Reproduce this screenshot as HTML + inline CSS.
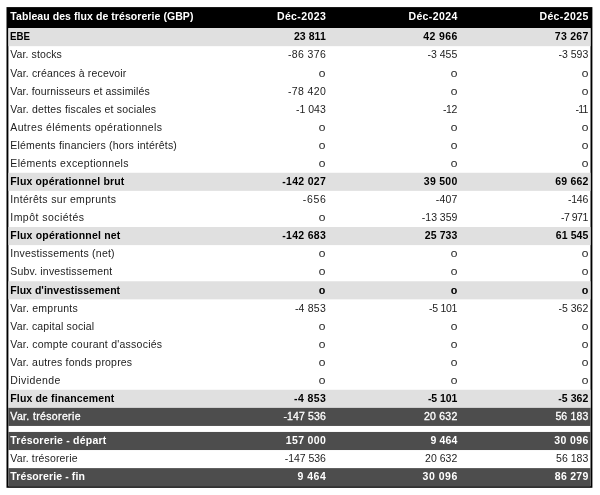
<!DOCTYPE html>
<html lang="fr"><head><meta charset="utf-8"><title>Tableau des flux de trésorerie</title>
<style>
html,body{margin:0;padding:0;background:#fff;}
body{width:600px;height:495px;position:relative;overflow:hidden;font-family:"Liberation Sans",Arial,sans-serif;font-size:10.5px;color:#1c1c1c;}
svg.bg{position:absolute;left:0;top:0}
.r{position:absolute;left:8.3px;width:582px;height:18.084px;line-height:18.084px;white-space:nowrap;}
.r.hd{color:#fff;font-weight:bold;}
.sub{font-weight:bold;color:#000}
.dark{color:#fff}
.b{font-weight:bold}
.sb{-webkit-text-stroke:0.3px #fff}
.l{position:absolute;left:2px;top:-0.75px;letter-spacing:0.125px}
.hd .l{letter-spacing:0.07px}
.c{position:absolute;top:-0.75px;text-align:right;letter-spacing:0.36px;margin-right:-0.36px}
.sub .c,.b .c{letter-spacing:0.06px;margin-right:0}
.r.hd .c{letter-spacing:0.39px;margin-right:-0.39px}
.z{font-style:normal;display:inline-block;font-size:9.8px;transform:scaleX(1.22);transform-origin:100% 50%}
.e{display:inline-block;transform:scaleX(0.925);transform-origin:0 50%}
.c1{right:264.5px}.c2{right:133px}.c3{right:2px}
</style></head><body>
<svg class="bg" width="600" height="495" viewBox="0 0 600 495">
<rect x="6.5" y="7.1" width="585.90" height="480.70" fill="#000"/>
<rect x="8.4" y="28.1" width="582.10" height="458.10" fill="#fff"/>
<rect x="8.4" y="28.10" width="582.10" height="18.084" fill="#e0e0e0"/>
<rect x="8.4" y="172.77" width="582.10" height="18.084" fill="#e0e0e0"/>
<rect x="8.4" y="227.02" width="582.10" height="18.084" fill="#e0e0e0"/>
<rect x="8.4" y="281.28" width="582.10" height="18.084" fill="#e0e0e0"/>
<rect x="8.4" y="389.78" width="582.10" height="18.084" fill="#e0e0e0"/>
<rect x="8.4" y="407.86" width="582.10" height="18.084" fill="#4d4d4d"/>
<rect x="8.4" y="431.95" width="582.10" height="18.084" fill="#4d4d4d"/>
<rect x="8.4" y="468.12" width="582.10" height="18.084" fill="#4d4d4d"/>
</svg>
<div class="r hd" style="top:7.1px;height:21.00px;line-height:21.00px"><span class="l">Tableau des flux de trésorerie (GBP)</span><span class="c c1">Déc-2023</span><span class="c c2">Déc-2024</span><span class="c c3">Déc-2025</span></div>
<div class="r sub" style="top:28.10px"><span class="l" style="letter-spacing:0px"><b class="e">EBE</b></span><span class="c c1" style="letter-spacing:0.06px;margin-right:-0.06px">23 811</span><span class="c c2" style="letter-spacing:0.394px;margin-right:-0.394px">42 966</span><span class="c c3" style="letter-spacing:0.26px;margin-right:-0.26px">73 267</span></div>
<div class="r " style="top:46.18px"><span class="l" style="letter-spacing:0.095px">Var. stocks</span><span class="c c1" style="letter-spacing:0.36px;margin-right:-0.36px">-86 376</span><span class="c c2" style="letter-spacing:0.026px;margin-right:-0.026px">-3 455</span><span class="c c3" style="letter-spacing:0.026px;margin-right:-0.026px">-3 593</span></div>
<div class="r " style="top:64.27px"><span class="l" style="letter-spacing:0.155px">Var. créances à recevoir</span><span class="c c1"><i class="z">0</i></span><span class="c c2"><i class="z">0</i></span><span class="c c3"><i class="z">0</i></span></div>
<div class="r " style="top:82.35px"><span class="l" style="letter-spacing:0.125px">Var. fournisseurs et assimilés</span><span class="c c1" style="letter-spacing:0.36px;margin-right:-0.36px">-78 420</span><span class="c c2"><i class="z">0</i></span><span class="c c3"><i class="z">0</i></span></div>
<div class="r " style="top:100.44px"><span class="l" style="letter-spacing:0.19px">Var. dettes fiscales et sociales</span><span class="c c1" style="letter-spacing:0.026px;margin-right:-0.026px">-1 043</span><span class="c c2" style="letter-spacing:-0.475px;margin-right:0.475px">-12</span><span class="c c3" style="letter-spacing:-0.74px;margin-right:0.74px">-11</span></div>
<div class="r " style="top:118.52px"><span class="l" style="letter-spacing:0.35px">Autres éléments opérationnels</span><span class="c c1"><i class="z">0</i></span><span class="c c2"><i class="z">0</i></span><span class="c c3"><i class="z">0</i></span></div>
<div class="r " style="top:136.60px"><span class="l" style="letter-spacing:0.213px">Eléments financiers (hors intérêts)</span><span class="c c1"><i class="z">0</i></span><span class="c c2"><i class="z">0</i></span><span class="c c3"><i class="z">0</i></span></div>
<div class="r " style="top:154.69px"><span class="l" style="letter-spacing:0.349px">Eléments exceptionnels</span><span class="c c1"><i class="z">0</i></span><span class="c c2"><i class="z">0</i></span><span class="c c3"><i class="z">0</i></span></div>
<div class="r sub" style="top:172.77px"><span class="l" style="letter-spacing:0.15px">Flux opérationnel brut</span><span class="c c1" style="letter-spacing:0.299px;margin-right:-0.299px">-142 027</span><span class="c c2" style="letter-spacing:0.26px;margin-right:-0.26px">39 500</span><span class="c c3" style="letter-spacing:0.194px;margin-right:-0.194px">69 662</span></div>
<div class="r " style="top:190.86px"><span class="l" style="letter-spacing:0.325px">Intérêts sur emprunts</span><span class="c c1" style="letter-spacing:0.693px;margin-right:-0.693px">-656</span><span class="c c2" style="letter-spacing:0.137px;margin-right:-0.137px">-407</span><span class="c c3" style="letter-spacing:-0.197px;margin-right:0.197px">-146</span></div>
<div class="r " style="top:208.94px"><span class="l" style="letter-spacing:0.456px">Impôt sociétés</span><span class="c c1"><i class="z">0</i></span><span class="c c2" style="letter-spacing:-0.028px;margin-right:0.028px">-13 359</span><span class="c c3" style="letter-spacing:-0.506px;margin-right:0.506px">-7 971</span></div>
<div class="r sub" style="top:227.02px"><span class="l" style="letter-spacing:0.19px">Flux opérationnel net</span><span class="c c1" style="letter-spacing:0.299px;margin-right:-0.299px">-142 683</span><span class="c c2" style="letter-spacing:0.06px;margin-right:-0.06px">25 733</span><span class="c c3" style="letter-spacing:0.06px;margin-right:-0.06px">61 545</span></div>
<div class="r " style="top:245.11px"><span class="l" style="letter-spacing:0.225px">Investissements (net)</span><span class="c c1"><i class="z">0</i></span><span class="c c2"><i class="z">0</i></span><span class="c c3"><i class="z">0</i></span></div>
<div class="r " style="top:263.19px"><span class="l" style="letter-spacing:0.178px">Subv. investissement</span><span class="c c1"><i class="z">0</i></span><span class="c c2"><i class="z">0</i></span><span class="c c3"><i class="z">0</i></span></div>
<div class="r sub" style="top:281.28px"><span class="l" style="letter-spacing:0.025px">Flux d'investissement</span><span class="c c1"><i class="z">0</i></span><span class="c c2"><i class="z">0</i></span><span class="c c3"><i class="z">0</i></span></div>
<div class="r " style="top:299.36px"><span class="l" style="letter-spacing:0.233px">Var. emprunts</span><span class="c c1" style="letter-spacing:0.226px;margin-right:-0.226px">-4 853</span><span class="c c2" style="letter-spacing:-0.306px;margin-right:0.306px">-5 101</span><span class="c c3" style="letter-spacing:0.026px;margin-right:-0.026px">-5 362</span></div>
<div class="r " style="top:317.44px"><span class="l" style="letter-spacing:0.164px">Var. capital social</span><span class="c c1"><i class="z">0</i></span><span class="c c2"><i class="z">0</i></span><span class="c c3"><i class="z">0</i></span></div>
<div class="r " style="top:335.53px"><span class="l" style="letter-spacing:0.239px">Var. compte courant d'associés</span><span class="c c1"><i class="z">0</i></span><span class="c c2"><i class="z">0</i></span><span class="c c3"><i class="z">0</i></span></div>
<div class="r " style="top:353.61px"><span class="l" style="letter-spacing:0.196px">Var. autres fonds propres</span><span class="c c1"><i class="z">0</i></span><span class="c c2"><i class="z">0</i></span><span class="c c3"><i class="z">0</i></span></div>
<div class="r " style="top:371.70px"><span class="l" style="letter-spacing:0.412px">Dividende</span><span class="c c1"><i class="z">0</i></span><span class="c c2"><i class="z">0</i></span><span class="c c3"><i class="z">0</i></span></div>
<div class="r sub" style="top:389.78px"><span class="l" style="letter-spacing:0.134px">Flux de financement</span><span class="c c1" style="letter-spacing:0.394px;margin-right:-0.394px">-4 853</span><span class="c c2" style="letter-spacing:-0.074px;margin-right:0.074px">-5 101</span><span class="c c3" style="letter-spacing:0.06px;margin-right:-0.06px">-5 362</span></div>
<div class="r dark sb" style="top:407.86px"><span class="l" style="letter-spacing:0.361px">Var. trésorerie</span><span class="c c1" style="letter-spacing:0.121px;margin-right:-0.121px">-147 536</span><span class="c c2" style="letter-spacing:0.226px;margin-right:-0.226px">20 632</span><span class="c c3" style="letter-spacing:0.16px;margin-right:-0.16px">56 183</span></div>
<div class="r dark b" style="top:431.95px"><span class="l" style="letter-spacing:0.207px">Trésorerie - départ</span><span class="c c1" style="letter-spacing:0.338px;margin-right:-0.338px">157 000</span><span class="c c2" style="letter-spacing:0.143px;margin-right:-0.143px">9 464</span><span class="c c3" style="letter-spacing:0.394px;margin-right:-0.394px">30 096</span></div>
<div class="r " style="top:450.03px"><span class="l" style="letter-spacing:0.146px">Var. trésorerie</span><span class="c c1" style="letter-spacing:-0.069px;margin-right:0.069px">-147 536</span><span class="c c2" style="letter-spacing:0.026px;margin-right:-0.026px">20 632</span><span class="c c3" style="letter-spacing:0.026px;margin-right:-0.026px">56 183</span></div>
<div class="r dark b" style="top:468.12px"><span class="l" style="letter-spacing:0.107px">Trésorerie - fin</span><span class="c c1" style="letter-spacing:0.477px;margin-right:-0.477px">9 464</span><span class="c c2" style="letter-spacing:0.526px;margin-right:-0.526px">30 096</span><span class="c c3" style="letter-spacing:0.26px;margin-right:-0.26px">86 279</span></div>
</body></html>
